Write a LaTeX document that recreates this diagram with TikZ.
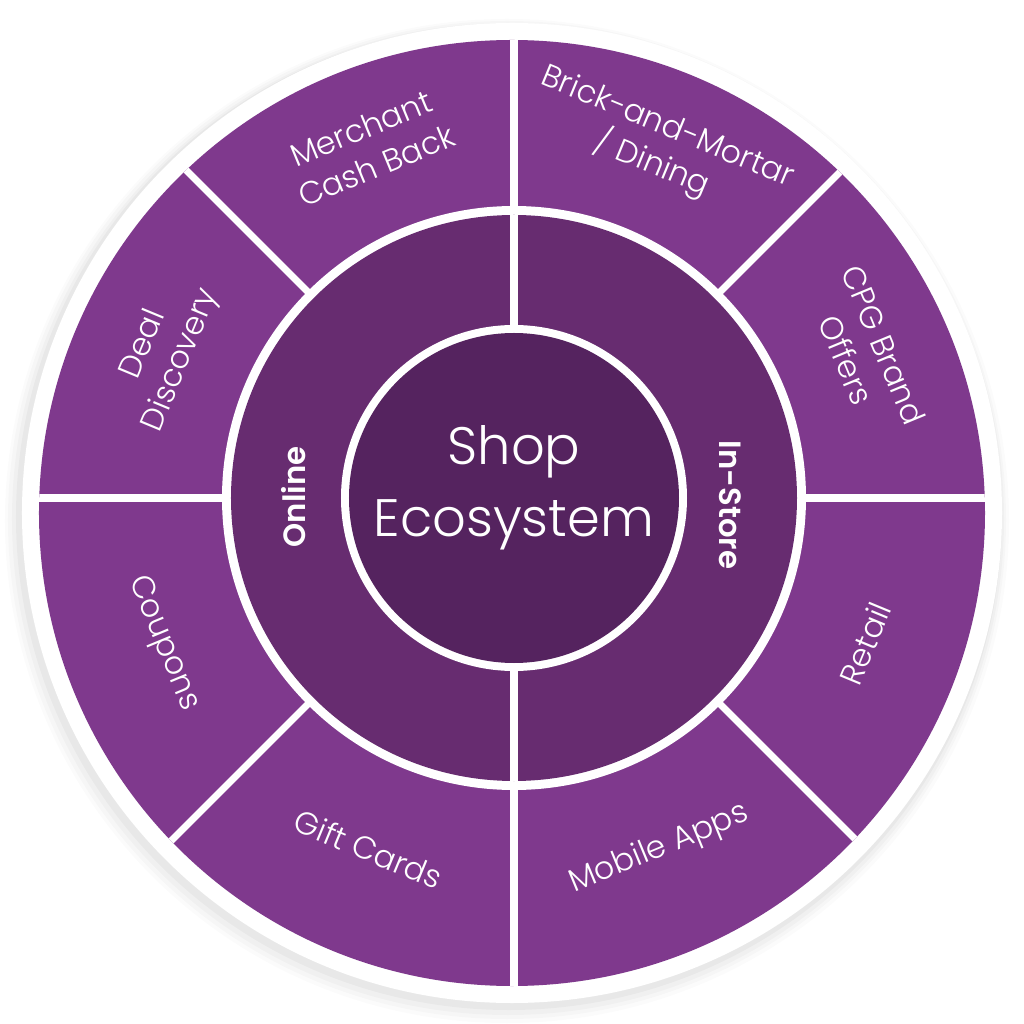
\documentclass[tikz,border=0pt]{standalone}
\usepackage{fontspec}
\setmainfont{Poppins}[UprightFont={* Light},BoldFont={* SemiBold}]
\definecolor{outerpurple}{HTML}{7F398D}
\definecolor{midpurple}{HTML}{672C70}
\definecolor{innerpurple}{HTML}{55235F}
\tikzset{
  seglabel/.style={text=white,align=center,font=\fontsize{18}{23}\selectfont},
  sidelabel/.style={text=white,font=\fontsize{17.5}{20}\selectfont\bfseries},
  divider/.style={white,line width=4pt}
}
\begin{document}
\begin{tikzpicture}[x=0.02cm,y=0.02cm]
  \def\rdisc{490};
  \def\rout{473};
  \def\rgap{292};
  \def\rmid{283};
  \def\rwhite{173};
  \def\rin{165};
  \def\rtext{380};
  \useasboundingbox (-512,-512) rectangle (512,512);
  \coordinate (o) at (0,-1);
  \coordinate (c) at (2,14);
  % soft shadow
  \fill[black,opacity=0.015] (-5,-9) circle (\rdisc+12);
  \fill[black,opacity=0.02] (-5,-8) circle (\rdisc+9);
  \fill[black,opacity=0.025] (-4,-7) circle (\rdisc+6);
  \fill[black,opacity=0.03] (-3,-5) circle (\rdisc+3);
  % white disc and outer ring
  \fill[white] (o) circle (\rdisc);
  \fill[outerpurple] (o) circle (\rout);
  \begin{scope}
    \clip (o) circle (\rout);
    \draw[divider] (c) -- ++(0:500);
    \draw[divider] (c) -- ++(45:500);
    \draw[divider] (c) -- ++(90:500);
    \draw[divider] (c) -- ++(135:500);
    \draw[divider] (c) -- ++(180:500);
    \draw[divider] (c) -- ++(225:500);
    \draw[divider] (c) -- ++(270:500);
    \draw[divider] (c) -- ++(315:500);
  \end{scope}
  % middle ring
  \fill[white] (c) circle (\rgap);
  \fill[midpurple] (c) circle (\rmid);
  \draw[divider] (c) -- ++(90:\rmid);
  \draw[divider] (c) -- ++(270:\rmid);
  % centre
  \fill[white] (c) circle (\rwhite);
  \fill[innerpurple] (c) circle (\rin);
  % labels
  \node[seglabel,rotate=22.5] (merchant) at ([shift={(112.5:\rtext)}]c) {Merchant\\Cash Back};
  \node[seglabel,rotate=-22.5] (brick) at ([shift={(67.5:\rtext)}]c) {Brick-and-Mortar\\/ Dining};
  \node[seglabel,rotate=-67.5] (cpg) at ([shift={(22.5:\rtext)}]c) {CPG Brand\\Offers};
  \node[seglabel,rotate=67.5] (retail) at ([shift={(-22.5:\rtext)}]c) {Retail};
  \node[seglabel,rotate=22.5] (mobile) at ([shift={(-67.5:\rtext)}]c) {Mobile Apps};
  \node[seglabel,rotate=-22.5] (gift) at ([shift={(-112.5:\rtext)}]c) {Gift Cards};
  \node[seglabel,rotate=-67.5] (coupons) at ([shift={(-157.5:\rtext)}]c) {Coupons};
  \node[seglabel,rotate=67.5] (deal) at ([shift={(157.5:\rtext)}]c) {Deal\\Discovery};
  \node[sidelabel,rotate=90] (online) at (-218,15) {Online};
  \node[sidelabel,rotate=-90] (instore) at (218,7) {In-Store};
  \node[text=white,align=center,font=\fontsize{30}{41}\selectfont] (shop) at (2,24) {Shop\\Ecosystem};
\end{tikzpicture}
\end{document}
